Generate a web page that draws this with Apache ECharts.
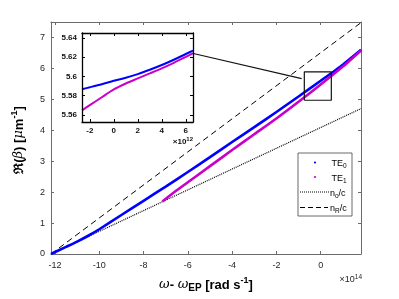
<!DOCTYPE html>
<html>
<head>
<meta charset="utf-8">
<script src="https://cdn.jsdelivr.net/npm/echarts@6/dist/echarts.min.js"></script>
<style>
  html, body { margin: 0; padding: 0; background: #fff; }
  #chart { width: 399px; height: 299px; }
</style>
</head>
<body>
<div id="chart"></div>
<script>
// omega - omega_EP in units of 1e14 rad/s, beta in 1/um
const te0W = [-12.18, -11.5, -11, -10.5, -10, -9, -8, -7, -6, -5, -4, -3, -2, -1, 0, 1, 1.82];
const te0B = [0, 0.23, 0.40, 0.59, 0.80, 1.26, 1.72, 2.18, 2.65, 3.13, 3.62, 4.10, 4.59, 5.09, 5.60, 6.12, 6.60];
const te1W = [-7.15, -6.5, -6, -5, -4, -3, -2, -1, 0, 1, 1.82];
const te1B = [1.70, 2.06, 2.32, 2.84, 3.36, 3.87, 4.38, 4.92, 5.48, 6.06, 6.58];
const lightW = [-12.18, 1.82];
const noB = [0, 4.70];
const nrB = [0, 7.48];

// inset, omega - omega_EP in units of 1e12 rad/s
const insetTe0W = [-2.65, -2, -1, 0, 1, 2, 3, 4, 5, 6, 6.6];
const insetTe0B = [5.5866, 5.5886, 5.5918, 5.5953, 5.5985, 5.6023, 5.6068, 5.6117, 5.6172, 5.6232, 5.6267];
const insetTe1W = [-2.65, -2, -1, 0, 1, 2, 3, 4, 5, 6, 6.6];
const insetTe1B = [5.5646, 5.5700, 5.5782, 5.5863, 5.5925, 5.5978, 5.6030, 5.6083, 5.6140, 5.6202, 5.6240];

const xTicks = [-12, -10, -8, -6, -4, -2, 0];
const yTicks = [0, 1, 2, 3, 4, 5, 6, 7];
const insetXTicks = [-2, 0, 2, 4, 6];
const insetYTicks = [5.56, 5.58, 5.6, 5.62, 5.64];

// zoom rectangle and connector in main-axis units
const boxW = [-0.74, 0.48, 0.48, -0.74, -0.74];
const boxB = [4.97, 4.97, 5.89, 5.89, 4.97];
const linkW = [-5.75, -0.86];
const linkB = [6.48, 5.67];

const pairs = (xs, ys) => xs.map((x, i) => [x, ys[i]]);
const FONT = 'Liberation Sans, Arial, Helvetica, sans-serif';
const GREY = '#262626';

function frame(gridIndex, pos, ticks, opts) {
  return Object.assign({
    gridIndex: gridIndex,
    position: pos,
    type: 'value',
    axisLine: { show: true, onZero: false, lineStyle: { color: '#6b6b6b', width: 1 } },
    axisTick: { show: true, inside: true, length: 3, customValues: ticks, lineStyle: { color: '#6b6b6b' } },
    axisLabel: { show: false },
    splitLine: { show: false }
  }, opts);
}

const inLine = { show: true, onZero: false, lineStyle: { color: '#000', width: 1.3 } };
const inTick = ticks => ({ show: true, inside: true, length: 3, customValues: ticks, lineStyle: { color: '#000' } });

// small rich-text styles for sub/superscripts
const sup = (size, lift, extra) => Object.assign({ fontSize: size, fontFamily: FONT, fill: '#000', padding: [0, 0, lift, 0] }, extra);
const sub = (size, drop, extra) => Object.assign({ fontSize: size, fontFamily: FONT, fill: '#000', padding: [drop, 0, 0, 0] }, extra);
const legendRich = { a: { fontSize: 9, fontFamily: FONT, fill: '#000' }, s: sub(6.5, 5) };

const chart = echarts.init(document.getElementById('chart'));

const option = {
  animation: false,
  backgroundColor: '#fff',
  grid: [
    { left: 51, top: 22, width: 310, height: 232 },
    { left: 82, top: 33, width: 111, height: 89, show: true, backgroundColor: '#fff', borderWidth: 0, z: 3 }
  ],
  xAxis: [
    frame(0, 'bottom', xTicks, {
      min: -12.18, max: 1.82,
      axisLabel: { show: true, customValues: xTicks, margin: 7, color: GREY, fontSize: 9, fontFamily: FONT }
    }),
    frame(0, 'top', xTicks, { min: -12.18, max: 1.82 }),
    frame(1, 'bottom', insetXTicks, {
      min: -2.65, max: 6.6, z: 5, axisLine: inLine, axisTick: inTick(insetXTicks),
      axisLabel: { show: true, customValues: insetXTicks, margin: 5, color: '#111', fontSize: 8, fontWeight: 'bold', fontFamily: FONT }
    }),
    frame(1, 'top', insetXTicks, { min: -2.65, max: 6.6, z: 5, axisLine: inLine, axisTick: inTick(insetXTicks) })
  ],
  yAxis: [
    frame(0, 'left', yTicks, {
      min: 0, max: 7.5,
      axisLabel: { show: true, customValues: yTicks, margin: 6, color: GREY, fontSize: 9, fontFamily: FONT }
    }),
    frame(0, 'right', yTicks, { min: 0, max: 7.5 }),
    frame(1, 'left', insetYTicks, {
      min: 5.5525, max: 5.645, z: 5, axisLine: inLine, axisTick: inTick(insetYTicks),
      axisLabel: { show: true, customValues: insetYTicks, margin: 5, color: '#111', fontSize: 8, fontWeight: 'bold', fontFamily: FONT,
        formatter: v => String(+v.toFixed(2)) }
    }),
    frame(1, 'right', insetYTicks, { min: 5.5525, max: 5.645, z: 5, axisLine: inLine, axisTick: inTick(insetYTicks) })
  ],
  series: [
    { name: 'nR/c', type: 'line', xAxisIndex: 0, yAxisIndex: 0, symbol: 'none', z: 2,
      data: pairs(lightW, nrB), lineStyle: { color: '#000', width: 1, type: [6, 4] } },
    { name: 'no/c', type: 'line', xAxisIndex: 0, yAxisIndex: 0, symbol: 'none', z: 2,
      data: pairs(lightW, noB), lineStyle: { color: '#000', width: 1.2, type: [1, 1] } },
    { name: 'TE0', type: 'line', xAxisIndex: 0, yAxisIndex: 0, symbol: 'none', z: 2, smooth: 0.2,
      data: pairs(te0W, te0B), lineStyle: { color: '#0000ff', width: 2.6 } },
    { name: 'TE1', type: 'line', xAxisIndex: 0, yAxisIndex: 0, symbol: 'none', z: 2, smooth: 0.2,
      data: pairs(te1W, te1B), lineStyle: { color: '#c800c8', width: 2.6 } },
    { name: 'box', type: 'line', xAxisIndex: 0, yAxisIndex: 0, symbol: 'none', z: 2,
      data: pairs(boxW, boxB), lineStyle: { color: '#111', width: 1.2 } },
    { name: 'link', type: 'line', xAxisIndex: 0, yAxisIndex: 0, symbol: 'none', z: 2,
      data: pairs(linkW, linkB), lineStyle: { color: '#111', width: 1.1 } },
    { name: 'TE0 inset', type: 'line', xAxisIndex: 2, yAxisIndex: 2, symbol: 'none', z: 4, smooth: 0.3,
      data: pairs(insetTe0W, insetTe0B), lineStyle: { color: '#0000ff', width: 2 } },
    { name: 'TE1 inset', type: 'line', xAxisIndex: 2, yAxisIndex: 2, symbol: 'none', z: 4, smooth: 0.3,
      data: pairs(insetTe1W, insetTe1B), lineStyle: { color: '#c800c8', width: 2 } }
  ],
  graphic: [
    // axis titles
    { type: 'text', x: 19, y: 140, rotation: Math.PI / 2, z: 100,
      style: { text: '{a|ℜ(}{i|β}{a|) [}{i|μ}{a|m}{s|-1}{a|]}', align: 'center', verticalAlign: 'middle',
        rich: {
          a: { fontSize: 13, fontWeight: 'bold', fontFamily: FONT, fill: '#000' },
          i: { fontSize: 13, fontStyle: 'italic', fontFamily: 'DejaVu Serif, serif', fill: '#000' },
          s: sup(9, 8, { fontWeight: 'bold' })
        } } },
    { type: 'text', x: 206, y: 285, z: 100,
      style: { text: '{i|ω}{a|- }{i|ω}{b|EP}{a| [rad s}{s|-1}{a|]}', align: 'center', verticalAlign: 'middle',
        rich: {
          a: { fontSize: 13, fontWeight: 'bold', fontFamily: FONT, fill: '#000' },
          i: { fontSize: 13, fontStyle: 'italic', fontFamily: 'DejaVu Serif, serif', fill: '#000' },
          b: sub(10, 7, { fontWeight: 'bold' }),
          s: sup(9, 8, { fontWeight: 'bold' })
        } } },
    { type: 'text', x: 362, y: 280, z: 100,
      style: { text: '{a|×10}{s|14}', align: 'right', verticalAlign: 'middle',
        rich: {
          a: { fontSize: 9, fontFamily: FONT, fill: GREY },
          s: sup(6.5, 6, { fill: GREY })
        } } },
    { type: 'text', x: 193, y: 142, z: 100,
      style: { text: '{a|×10}{s|12}', align: 'right', verticalAlign: 'middle',
        rich: {
          a: { fontSize: 8, fontWeight: 'bold', fontFamily: FONT, fill: '#111' },
          s: sup(6, 5, { fontWeight: 'bold', fill: '#111' })
        } } },
    // legend
    { type: 'rect', z: 100, shape: { x: 298, y: 153, width: 54, height: 63 },
      style: { fill: '#fff', stroke: '#444', lineWidth: 0.8 } },
    { type: 'circle', z: 101, shape: { cx: 315, cy: 162.5, r: 1.1 }, style: { fill: '#0000ff' } },
    { type: 'circle', z: 101, shape: { cx: 315, cy: 177, r: 1.1 }, style: { fill: '#c800c8' } },
    { type: 'line', z: 101, shape: { x1: 300, y1: 192, x2: 329, y2: 192 },
      style: { stroke: '#000', lineWidth: 1.2, lineDash: [1, 1] } },
    { type: 'line', z: 101, shape: { x1: 300, y1: 207.5, x2: 328, y2: 207.5 },
      style: { stroke: '#000', lineWidth: 1.2, lineDash: [5, 3] } },
    { type: 'text', z: 101, x: 331.5, y: 164, style: { text: '{a|TE}{s|0}', verticalAlign: 'middle', rich: legendRich } },
    { type: 'text', z: 101, x: 331.5, y: 178.5, style: { text: '{a|TE}{s|1}', verticalAlign: 'middle', rich: legendRich } },
    { type: 'text', z: 101, x: 330, y: 193.5, style: { text: '{a|n}{s|o}{a|/c}', verticalAlign: 'middle', rich: legendRich } },
    { type: 'text', z: 101, x: 330, y: 209, style: { text: '{a|n}{s|R}{a|/c}', verticalAlign: 'middle', rich: legendRich } }
  ]
};

chart.setOption(option);
</script>
</body>
</html>
